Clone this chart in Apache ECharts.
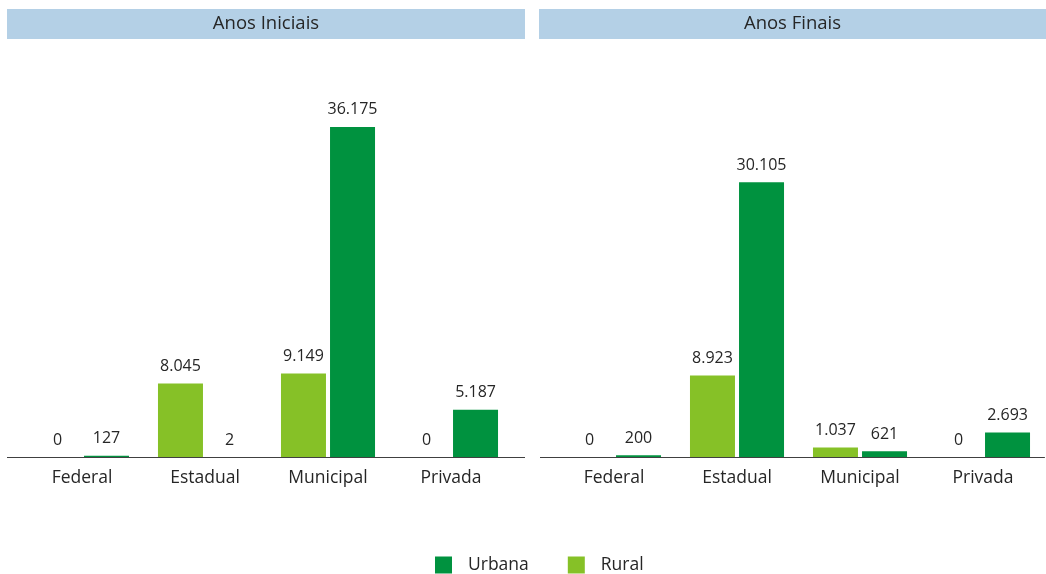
<!DOCTYPE html>
<html>
<head>
<meta charset="utf-8">
<script src="https://cdn.jsdelivr.net/npm/echarts@6/dist/echarts.min.js"></script>
<style>
  html, body { margin: 0; padding: 0; background: #fff; }
  #chart { width: 1046px; height: 574px; }
</style>
</head>
<body>
<div id="chart"></div>
<script>
// dados
const categories = ["Federal", "Estadual", "Municipal", "Privada"];
const panelTitles = ["Anos Iniciais", "Anos Finais"];
const iniciaisRural = [0, 8045, 9149, 0];
const iniciaisUrbana = [127, 2, 36175, 5187];
const finaisRural = [0, 8923, 1037, 0];
const finaisUrbana = [200, 30105, 621, 2693];

const corUrbana = "#00923f";
const corRural = "#86c127";
const corTexto = "#262626";
const fonte = "'Open Sans', 'Noto Sans', sans-serif";

// formato brasileiro: 36175 -> 36.175
const fmt = v => String(v).replace(/\B(?=(\d{3})+(?!\d))/g, ".");

const chart = echarts.init(document.getElementById("chart"));

const barSeries = (name, data, idx, color) => ({
  name: name,
  type: "bar",
  xAxisIndex: idx,
  yAxisIndex: idx,
  data: data,
  barWidth: 45,
  barGap: "9%",
  itemStyle: { color: color },
  label: {
    show: true,
    position: "top",
    distance: 9,
    color: corTexto,
    fontFamily: fonte,
    fontSize: 16,
    formatter: p => fmt(p.value)
  },
  animation: false
});

const xAxisCfg = idx => ({
  type: "category",
  gridIndex: idx,
  data: categories,
  axisTick: { show: false },
  axisLine: { show: true, lineStyle: { color: "#404040", width: 1 } },
  axisLabel: {
    color: corTexto,
    fontFamily: fonte,
    fontSize: 17.5,
    margin: 12
  }
});

const yAxisCfg = idx => ({
  type: "value",
  gridIndex: idx,
  min: 0,
  max: 40000,
  show: false,
  splitLine: { show: false }
});

// faixas de título e linha de base
const header = (x, w, text) => ({
  type: "group",
  left: x,
  top: 9,
  children: [
    { type: "rect", shape: { x: 0, y: 0, width: w, height: 30 }, style: { fill: "#b4d0e6" } },
    {
      type: "text",
      x: w / 2,
      y: 15,
      style: {
        text: text,
        fill: corTexto,
        font: "18.5px " + fonte,
        textAlign: "center",
        textVerticalAlign: "middle"
      }
    }
  ]
});

const baseLine = (x1, x2) => ({
  type: "line",
  shape: { x1: x1, y1: 457.5, x2: x2, y2: 457.5 },
  style: { stroke: "#404040", lineWidth: 1 },
  silent: true
});

chart.setOption({
  backgroundColor: "#ffffff",
  animation: false,
  grid: [
    { left: 20.5, width: 492, top: 92, bottom: 117 },
    { left: 552.5, width: 492, top: 92, bottom: 117 }
  ],
  xAxis: [xAxisCfg(0), xAxisCfg(1)],
  yAxis: [yAxisCfg(0), yAxisCfg(1)],
  legend: {
    data: ["Urbana", "Rural"],
    left: 435,
    top: 556,
    padding: 0,
    itemWidth: 17,
    itemHeight: 17,
    itemGap: 39,
    icon: "rect",
    textStyle: {
      color: corTexto,
      fontFamily: fonte,
      fontSize: 17.5,
      padding: [0, 0, 0, 11]
    }
  },
  graphic: [
    header(7, 518, panelTitles[0]),
    header(539, 507, panelTitles[1]),
    baseLine(7, 525),
    baseLine(540, 1044)
  ],
  series: [
    barSeries("Rural", iniciaisRural, 0, corRural),
    barSeries("Urbana", iniciaisUrbana, 0, corUrbana),
    barSeries("Rural", finaisRural, 1, corRural),
    barSeries("Urbana", finaisUrbana, 1, corUrbana)
  ]
});

window.addEventListener("resize", () => chart.resize());
</script>
</body>
</html>
